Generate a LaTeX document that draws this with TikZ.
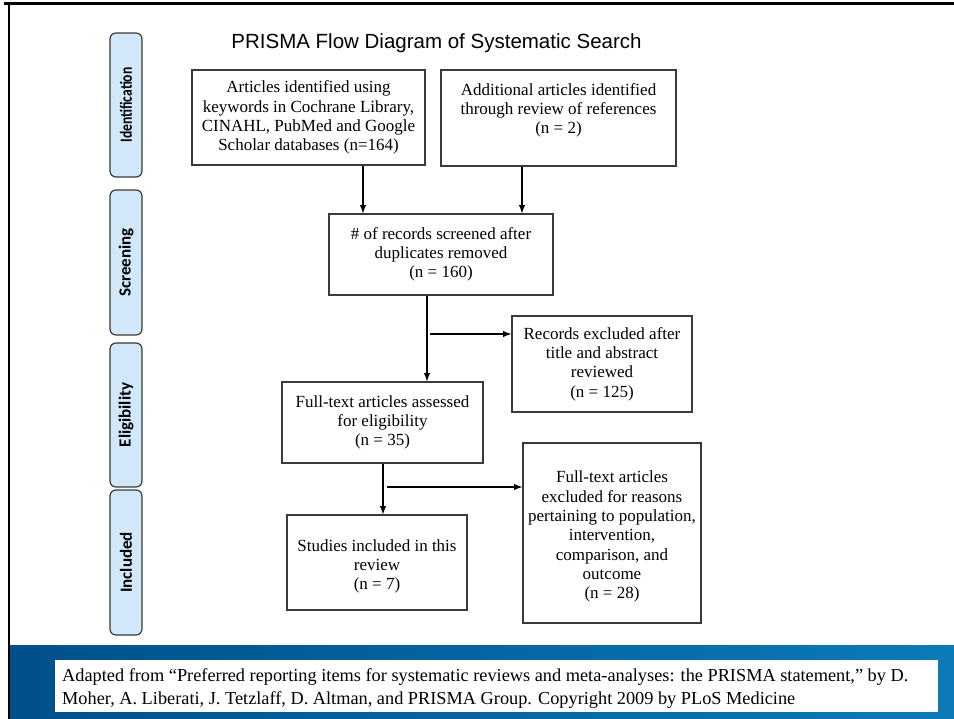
\documentclass[tikz,border=0pt]{standalone}
\usepackage{fontspec}
\setmainfont{Liberation Serif}
\newfontfamily\titlefont{Liberation Sans}
\newfontfamily\tabfont{Carlito}[BoldFont={Carlito Bold}]
\definecolor{tabblue}{HTML}{D0E8FA}
\definecolor{boxgray}{HTML}{3A3A3A}
\definecolor{banddark}{HTML}{00508A}
\definecolor{bandlight}{HTML}{0C7BB8}
\begin{document}
\begin{tikzpicture}[x=1pt,y=-1pt,
    box/.style={draw=boxgray,line width=1.3pt,align=center,inner sep=0pt,
      font=\fontsize{17}{19.3}\selectfont},
    tab/.style={draw=boxgray,fill=tabblue,line width=1.2pt,rounded corners=6pt,
      rotate=90,minimum height=32pt,font=\tabfont\bfseries\fontsize{17}{19}\selectfont},
    arr/.style={-latex,line width=1.8pt}]
    \useasboundingbox (0,0) rectangle (954,719);

    \node[tab,minimum width=144pt] (ident) at (126,105) {\scalebox{0.8}[1]{Identification}};
    \node[tab,minimum width=145pt] (screen) at (126,262.5) {Screening};
    \node[tab,minimum width=144pt] (eligtab) at (126,415) {Eligibility};
    \node[tab,minimum width=145pt] (incltab) at (126,562.5) {Included};

    \node[font=\titlefont\fontsize{20.5}{24}\selectfont] (title) at (436.5,43)
    {PRISMA Flow Diagram of Systematic Search};

    \node[box,minimum width=233pt,minimum height=95pt] (found) at (308.5,117.5)
    {Articles identified using\\keywords in Cochrane Library,\\CINAHL, PubMed and Google\\Scholar databases (n=164)};
    \node[box,minimum width=235pt,minimum height=96pt] (extra) at (558.5,118)
    {Additional articles identified\\through review of references\\(n = 2)\\\mbox{}};
    \node[box,minimum width=224pt,minimum height=81pt] (screened) at (441,254.5)
    {\# of records screened after\\duplicates removed\\(n = 160)};
    \node[box,minimum width=180pt,minimum height=96pt] (excl1) at (602,364)
    {Records excluded after\\title and abstract\\reviewed\\(n = 125)};
    \node[box,minimum width=201pt,minimum height=81pt] (elig) at (382.5,422.5)
    {Full-text articles assessed\\for eligibility\\(n = 35)};
    \node[box,minimum width=180pt,minimum height=95pt] (incl) at (377,562.5)
    {\mbox{}\\Studies included in this\\review\\(n = 7)};
    \node[box,minimum width=178pt,minimum height=180pt] (excl2) at (612,533)
    {\mbox{}\\Full-text articles\\excluded for reasons\\pertaining to population,\\intervention,\\comparison, and\\outcome\\(n = 28)};

    \draw[arr] ([xshift=54.5pt]found.south) -- ([xshift=54.5pt]found.south |- screened.north);
    \draw[arr] ([xshift=-36.5pt]extra.south) -- ([xshift=-36.5pt]extra.south |- screened.north);
    \draw[arr] ([xshift=-14pt]screened.south) -- ([xshift=-14pt]screened.south |- elig.north);
    \coordinate (b1) at (430,334);
    \draw[arr] (b1) -- (b1 -| excl1.west);
    \draw[arr] ([xshift=0.5pt]elig.south) -- ([xshift=0.5pt]elig.south |- incl.north);
    \coordinate (b2) at (387,487);
    \draw[arr] (b2) -- (b2 -| excl2.west);

    \shade[left color=banddark,right color=bandlight] (9,645) rectangle (954,719);
    \fill[white] (55,660) rectangle (938,712);
    \node[anchor=west,align=left,inner sep=0pt,font=\fontsize{18.3}{23}\selectfont] (credit) at (62,688.5)
    {Adapted from “Preferred reporting items for systematic reviews and meta-analyses: the PRISMA statement,” by D.\\
     Moher, A. Liberati, J. Tetzlaff, D. Altman, and PRISMA Group. Copyright 2009 by PLoS Medicine};

    \draw[line width=3pt] (4,4) -- (954,4);
    \draw[line width=2pt] (9,3) -- (9,719);
\end{tikzpicture}
\end{document}
